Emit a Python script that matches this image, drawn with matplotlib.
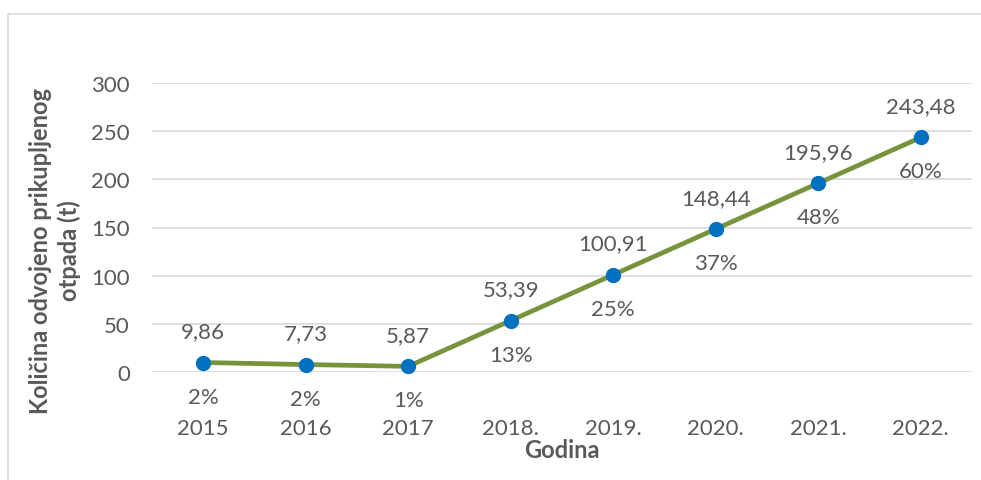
import matplotlib
matplotlib.use("Agg")
import matplotlib.pyplot as plt
from matplotlib.patches import Rectangle

# Data
years = ["2015", "2016", "2017", "2018.", "2019.", "2020.", "2021.", "2022."]
amounts = [9.86, 7.73, 5.87, 53.39, 100.91, 148.44, 195.96, 243.48]
shares = ["2%", "2%", "1%", "13%", "25%", "37%", "48%", "60%"]

txtCol = "#595959"
lineCol = "#77933C"
markCol = "#0070C0"
gridCol = "#D9D9D9"

plt.rcParams['font.family'] = ['Lato', 'DejaVu Sans']

W, H = 981, 481
fig = plt.figure(figsize=(W/100, H/100), dpi=100)
fig.patches.append(Rectangle((8/W, -0.1), (W + 20)/W, (H - 15)/H + 0.1, transform=fig.transFigure,
                             fill=False, edgecolor="#D9D9D9", linewidth=1.2))

ax = fig.add_axes([152/W, (H - 373)/H, (972 - 152)/W, (373 - 84)/H])
x = list(range(len(years)))
ax.plot(x, amounts, color=lineCol, linewidth=3.4, marker='o', markersize=10,
        markerfacecolor=markCol, markeredgecolor=markCol, clip_on=False, zorder=3)

for i in x:
    ax.annotate(f"{amounts[i]:.2f}".replace(".", ","), (i, amounts[i]), xytext=(0, 22.5),
                textcoords="offset points", ha="center", va="center", fontsize=16, color=txtCol)
    ax.annotate(shares[i], (i, amounts[i]), xytext=(0, -24.5),
                textcoords="offset points", ha="center", va="center", fontsize=16, color=txtCol)

ax.set_xlim(-0.5, len(years) - 0.5)
ax.set_ylim(0, 300)
ax.set_yticks(range(0, 301, 50))
ax.set_xticks(x)
ax.set_xticklabels(years)
ax.tick_params(axis="x", length=0, pad=33, labelsize=16, labelcolor=txtCol)
ax.tick_params(axis="y", length=0, pad=16, labelsize=16, labelcolor=txtCol)
ax.grid(axis="y", color=gridCol, linewidth=1.2)
ax.set_axisbelow(True)
for s in ax.spines.values():
    s.set_visible(False)

ax.set_xlabel("Godina", fontsize=17, fontweight="bold", color=txtCol, labelpad=0)
fig.text(55/W, (H - 251)/H, "Količina odvojeno prikupljenog\notpada (t)", rotation=90,
         ha="center", va="center", fontsize=17, fontweight="bold", color=txtCol,
         multialignment="center", linespacing=1.3)

fig.savefig("out.png", dpi=100)
